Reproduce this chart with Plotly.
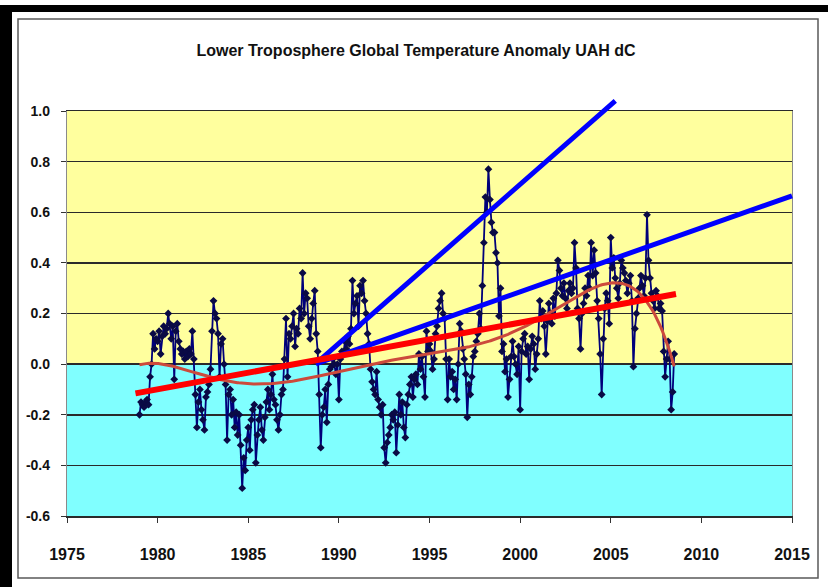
import numpy as np
import plotly.graph_objects as go

# ---------------- data ----------------
START_YEAR = 1979  # first month of the monthly series (Jan 1979)

# monthly lower-troposphere anomalies, one row per year (Jan..Dec), ends Jul 2008
anomaly = [
    -0.20, -0.15, -0.16, -0.17, -0.15, -0.14, -0.16, -0.05, 0.00, 0.12, 0.06, 0.10,   # 1979
    0.09, 0.13, 0.04, 0.11, 0.15, 0.12, 0.14, 0.20, 0.16, 0.10, 0.15, -0.06,          # 1980
    0.13, 0.16, 0.09, 0.06, 0.04, 0.05, 0.02, 0.05, 0.03, 0.06, 0.04, 0.13,           # 1981
    0.02, -0.12, -0.25, -0.15, -0.10, -0.18, -0.22, -0.26, -0.13, -0.11, -0.08, -0.02,  # 1982
    0.13, 0.25, 0.20, 0.18, 0.12, -0.05, 0.08, 0.10, 0.00, -0.08, -0.30, -0.12,       # 1983
    -0.10, -0.20, -0.14, -0.25, -0.19, -0.28, -0.20, -0.32, -0.49, -0.37, -0.42, -0.30,  # 1984
    -0.25, -0.34, -0.22, -0.18, -0.16, -0.39, -0.28, -0.22, -0.17, -0.26, -0.30, -0.21,  # 1985
    -0.15, -0.10, -0.18, -0.12, -0.04, -0.14, -0.16, -0.22, -0.26, -0.20, -0.12, -0.10,  # 1986
    0.02, 0.18, -0.05, 0.12, 0.10, 0.15, 0.20, 0.07, 0.14, 0.12, 0.22, 0.18,          # 1987
    0.36, 0.20, 0.28, 0.26, 0.15, 0.10, 0.18, 0.24, 0.29, 0.12, 0.05, -0.12,          # 1988
    -0.33, -0.20, -0.17, -0.10, -0.23, -0.08, -0.02, -0.01, 0.02, 0.00, -0.04, 0.00,  # 1989
    -0.14, 0.02, 0.05, 0.04, 0.09, 0.06, 0.11, 0.08, 0.14, 0.33, 0.20, 0.24,          # 1990
    0.27, 0.15, 0.31, 0.28, 0.33, 0.25, 0.20, 0.12, 0.08, -0.02, -0.07, -0.10,        # 1991
    -0.12, -0.03, -0.14, -0.17, -0.20, -0.16, -0.33, -0.39, -0.31, -0.28, -0.25, -0.20,  # 1992
    -0.22, -0.19, -0.35, -0.24, -0.12, -0.20, -0.15, -0.25, -0.29, -0.16, -0.12, -0.08,  # 1993
    -0.05, -0.13, -0.06, -0.04, -0.08, 0.04, -0.02, 0.03, -0.05, -0.13, 0.13, 0.05,   # 1994
    0.08, 0.05, -0.02, 0.02, 0.12, 0.15, 0.22, 0.25, 0.28, 0.20, 0.18, 0.02,          # 1995
    -0.14, 0.02, -0.05, -0.03, -0.10, -0.06, -0.14, 0.00, 0.16, 0.13, 0.06, 0.02,     # 1996
    -0.04, -0.21, -0.08, -0.12, -0.05, 0.03, 0.05, 0.09, 0.12, 0.20, 0.14, 0.31,      # 1997
    0.48, 0.66, 0.60, 0.77, 0.65, 0.56, 0.52, 0.52, 0.44, 0.40, 0.19, 0.30,           # 1998
    0.05, 0.08, -0.03, 0.02, -0.13, -0.06, 0.03, 0.09, 0.03, 0.00, -0.04, 0.07,       # 1999
    -0.18, 0.05, 0.10, 0.12, 0.04, 0.07, -0.06, 0.06, 0.11, 0.08, -0.02, 0.04,        # 2000
    0.10, 0.25, 0.18, 0.21, 0.15, 0.04, 0.17, 0.24, 0.20, 0.16, 0.26, 0.19,           # 2001
    0.28, 0.41, 0.37, 0.30, 0.27, 0.32, 0.26, 0.22, 0.29, 0.32, 0.28, 0.30,           # 2002
    0.48, 0.38, 0.22, 0.18, 0.06, 0.20, 0.24, 0.30, 0.27, 0.35, 0.30, 0.48,           # 2003
    0.35, 0.45, 0.36, 0.25, 0.18, 0.04, -0.12, 0.10, 0.22, 0.28, 0.25, 0.16,          # 2004
    0.50, 0.38, 0.42, 0.34, 0.30, 0.26, 0.32, 0.41, 0.38, 0.36, 0.33, 0.28,           # 2005
    0.32, 0.35, 0.25, -0.01, 0.14, 0.20, 0.26, 0.30, 0.35, 0.31, 0.27, 0.34,          # 2006
    0.59, 0.41, 0.34, 0.28, 0.25, 0.22, 0.29, 0.27, 0.22, 0.24, 0.21, 0.05,           # 2007
    -0.05, 0.02, 0.09, 0.02, -0.18, -0.11, 0.04,                                      # 2008
]

# straight red trend line (end points)
trend_years = [1978.75, 2008.6]
trend_vals = [-0.116, 0.277]

# two blue "projection" lines starting from the same point
steep_years = [1988.7, 2005.25]
steep_vals = [0.0, 1.04]
shallow_years = [1988.7, 2015.0]
shallow_vals = [0.0, 0.665]

x_ticks = [1975, 1980, 1985, 1990, 1995, 2000, 2005, 2010, 2015]
y_ticks = [-0.6, -0.4, -0.2, 0.0, 0.2, 0.4, 0.6, 0.8, 1.0]
y_tick_labels = ["-0.6", "-0.4", "-0.2", "0.0", "0.2", "0.4", "0.6", "0.8", "1.0"]

TITLE = "Lower Troposphere Global Temperature Anomaly UAH dC"

# ---------------- layout geometry ----------------
W, H = 828, 587
ML, MR, MT, MB = 67, 36, 111, 71
PW, PH = W - ML - MR, H - MT - MB

def px_x(px):
    return (px - ML) / PW

def px_y(py):
    return (H - MB - py) / PH

X_RANGE = [x_ticks[0], x_ticks[-1]]
Y_RANGE = [y_ticks[0], y_ticks[-1]]

# ---------------- derived series ----------------
t = START_YEAR + np.arange(len(anomaly)) / 12.0
ref = 1993.0
coef = np.polyfit(t - ref, np.array(anomaly), 6)
t_fine = np.linspace(t[0], t[-1], 400)
poly = np.polyval(coef, t_fine - ref)

FONT = "Liberation Sans, Arial, sans-serif"

fig = go.Figure()

fig.add_trace(go.Scatter(
    x=t, y=anomaly, mode="lines+markers",
    line=dict(color="#00007a", width=1.8),
    marker=dict(symbol="diamond", size=6, color="#0a0a45"),
    hoverinfo="skip", showlegend=False,
))
fig.add_trace(go.Scatter(
    x=t_fine, y=poly, mode="lines",
    line=dict(color="#cc4a3c", width=3),
    hoverinfo="skip", showlegend=False,
))

# straight lines as annotation arrows (not clipped at plot edge)
def seg(xs, ys, color, width):
    return dict(
        x=xs[1], y=ys[1], ax=xs[0], ay=ys[0],
        xref="x", yref="y", axref="x", ayref="y",
        text="", showarrow=True, arrowhead=0, arrowwidth=width,
        arrowcolor=color, standoff=0, startstandoff=0,
        font=dict(size=1), borderpad=0,
    )

annotations = [
    seg(shallow_years, shallow_vals, "#0000ff", 5),
    seg(steep_years, steep_vals, "#0000ff", 5),
    seg(trend_years, trend_vals, "#ff0000", 6),
]

shapes = [
    # coloured bands
    dict(type="rect", xref="x", yref="y", x0=X_RANGE[0], x1=X_RANGE[1], y0=0, y1=Y_RANGE[1],
         fillcolor="#ffff9e", line=dict(width=0), layer="below"),
    dict(type="rect", xref="x", yref="y", x0=X_RANGE[0], x1=X_RANGE[1], y0=Y_RANGE[0], y1=0,
         fillcolor="#80ffff", line=dict(width=0), layer="below"),
    # inner grey frame
    dict(type="rect", xref="paper", yref="paper", x0=px_x(18), x1=px_x(818), y0=px_y(578), y1=px_y(19),
         line=dict(color="#5a5a5a", width=1.5), fillcolor="rgba(0,0,0,0)", layer="above"),
    # black bands (top and left)
    dict(type="rect", xref="paper", yref="paper", x0=px_x(0), x1=px_x(828), y0=px_y(12), y1=px_y(5),
         line=dict(width=0), fillcolor="#000000", layer="above"),
    dict(type="rect", xref="paper", yref="paper", x0=px_x(0), x1=px_x(12), y0=px_y(587), y1=px_y(5),
         line=dict(width=0), fillcolor="#000000", layer="above"),
]

fig.update_layout(
    width=W, height=H, autosize=False,
    margin=dict(l=ML, r=MR, t=MT, b=MB, pad=0),
    paper_bgcolor="#ffffff", plot_bgcolor="#ffffff",
    showlegend=False,
    hovermode=False,
    title=dict(text=TITLE, x=416 / W, xref="container", xanchor="center",
               y=1 - 50 / H, yref="container", yanchor="middle",
               font=dict(family=FONT, size=16, color="#111111", weight="bold")),
    shapes=shapes,
    annotations=annotations,
    xaxis=dict(range=X_RANGE, tickvals=x_ticks, ticktext=[str(v) for v in x_ticks],
               showgrid=False, zeroline=False,
               showline=True, linecolor="#2a2a2a", linewidth=1.5, mirror=True,
               ticks="outside", ticklen=5, tickcolor="#333333", tickwidth=1,
               ticklabelstandoff=18,
               tickfont=dict(family=FONT, size=16, color="#111111", weight="bold")),
    yaxis=dict(range=Y_RANGE, tickvals=y_ticks, ticktext=y_tick_labels,
               showgrid=True, gridcolor="#2a2a2a", gridwidth=1.5, zeroline=False,
               showline=True, linecolor="#8a8a8a", linewidth=1.2, mirror=True,
               ticks="outside", ticklen=5, tickcolor="#333333", tickwidth=1,
               ticklabelstandoff=8,
               tickfont=dict(family=FONT, size=14, color="#111111", weight="bold")),
)

fig.write_html("out.html", config={"displayModeBar": False, "staticPlot": True},
               post_script="document.body.style.margin='0';")
